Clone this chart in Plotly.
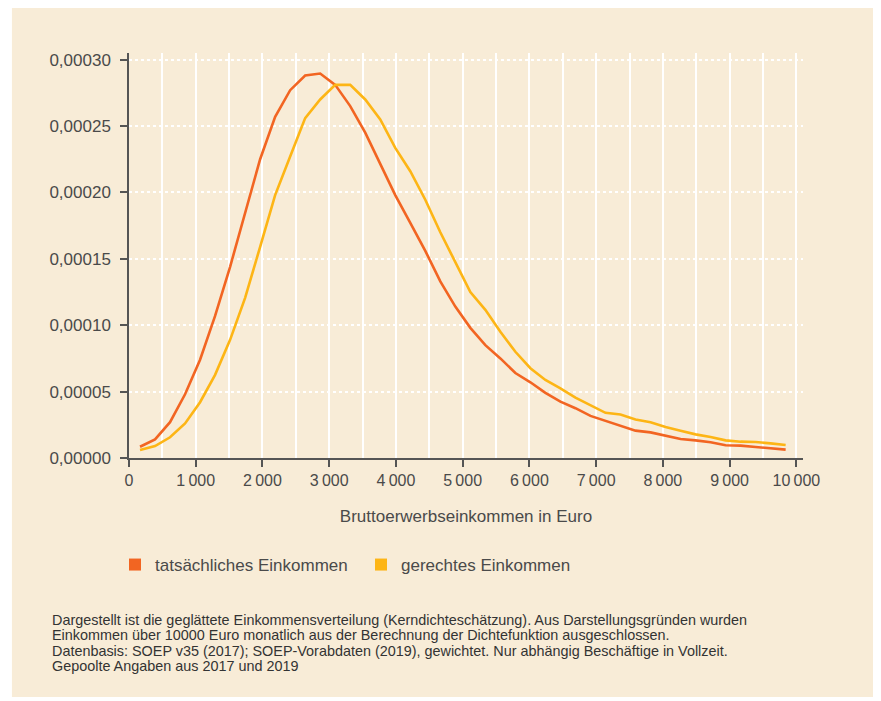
import plotly.graph_objects as go

# ---- data ----
einkommen = [165, 390, 615, 840, 1065, 1290, 1515, 1740, 1965, 2190, 2415, 2640, 2865,
             3090, 3315, 3540, 3765, 3990, 4215, 4440, 4665, 4890, 5115, 5340, 5565,
             5790, 6015, 6240, 6465, 6690, 6915, 7140, 7365, 7590, 7815, 8040, 8265,
             8490, 8715, 8940, 9165, 9390, 9615, 9840]

tatsaechlich = [8.5, 14, 27, 48, 74, 107, 144, 185, 225, 257, 277, 288, 289.5,
                281, 265, 245, 222, 198, 177, 156, 133, 114, 98, 85, 75,
                64, 57, 49, 42.5, 37.5, 31.7, 28, 24.4, 20.6, 19.3, 16.8, 14.3,
                13.3, 11.8, 9.6, 9.3, 8.3, 7.3, 6.3]
tatsaechlich = [v * 1e-6 for v in tatsaechlich]

gerecht = [6, 9, 15.6, 26, 42, 62.6, 89, 120.6, 159, 198, 227, 256, 270,
           281, 281, 270, 255, 233.5, 216, 194.5, 170, 147.5, 125, 111.6, 95,
           80, 67.6, 58.8, 52.5, 45.5, 40, 34, 32.7, 29, 27, 23.4, 20.6,
           17.8, 15.8, 13.3, 12.3, 12, 11, 9.8]
gerecht = [v * 1e-6 for v in gerecht]

x_tickvals = [0, 1000, 2000, 3000, 4000, 5000, 6000, 7000, 8000, 9000, 10000]
x_ticktext = ["0", "1\u2009000", "2\u2009000", "3\u2009000", "4\u2009000", "5\u2009000",
              "6\u2009000", "7\u2009000", "8\u2009000", "9\u2009000", "10\u2009000"]
y_tickvals = [0, 0.00005, 0.0001, 0.00015, 0.0002, 0.00025, 0.0003]
y_ticktext = ["0,00000", "0,00005", "0,00010", "0,00015", "0,00020", "0,00025", "0,00030"]

series_names = ["tatsächliches Einkommen", "gerechtes Einkommen"]
footnote_lines = [
    "Dargestellt ist die geglättete Einkommensverteilung (Kerndichteschätzung). "
    "Aus Darstellungsgründen wurden",
    "Einkommen über 10000 Euro monatlich aus der Berechnung der Dichtefunktion ausgeschlossen.",
    "Datenbasis: SOEP v35 (2017); SOEP-Vorabdaten (2019), gewichtet. "
    "Nur abhängig Beschäftige in Vollzeit.",
    "Gepoolte Angaben aus 2017 und 2019",
]

RED = "#F26522"
YEL = "#FDB515"
BEIGE = "#F8ECD7"
TXT = "#4a4a4a"
FONT = "Liberation Sans, Arial, sans-serif"

fig = go.Figure()
fig.add_trace(go.Scatter(x=einkommen, y=tatsaechlich, mode="lines",
                         line=dict(color=RED, width=2.6), showlegend=False))
fig.add_trace(go.Scatter(x=einkommen, y=gerecht, mode="lines",
                         line=dict(color=YEL, width=2.6), showlegend=False))
# legend entries (square swatches)
for name, col in zip(series_names, [RED, YEL]):
    fig.add_trace(go.Scatter(x=[None], y=[None], mode="markers", name=name,
                             marker=dict(symbol="square", size=12, color=col)))

# plot area: left 121, top 45, width ~673.7, height 405 (page has 8px body margin)
annotations = []
for i, line in enumerate(footnote_lines):
    py = 620 + i * 15.3
    annotations.append(dict(text=line, xref="paper", yref="paper",
                            x=-0.1173, y=(458 - py) / 405, xanchor="left", yanchor="middle",
                            align="left", showarrow=False,
                            font=dict(size=14.4, color="#333333", family=FONT)))

fig.update_layout(
    width=881, height=701,
    margin=dict(l=121, r=86.3, t=45, b=251),
    paper_bgcolor="white",
    plot_bgcolor=BEIGE,
    font=dict(family=FONT, size=17, color=TXT),
    showlegend=True,
    legend=dict(orientation="h", xref="container", yref="container",
                x=107 / 881, y=1 - 557 / 701, xanchor="left", yanchor="middle",
                bgcolor="rgba(0,0,0,0)", font=dict(size=17, color=TXT),
                entrywidth=201, itemwidth=30),
    shapes=[dict(type="rect", xref="paper", yref="paper",
                 x0=-0.1737, x1=1.1105, y0=-0.5902, y1=1.1136,
                 fillcolor=BEIGE, line=dict(width=0), layer="below")],
    annotations=annotations,
)

fig.update_xaxes(
    range=[0, 10100], tickvals=x_tickvals, ticktext=x_ticktext,
    showline=True, linecolor="#555555", linewidth=1.5,
    ticks="outside", ticklen=7, tickwidth=1.5, tickcolor="#555555",
    showgrid=True, gridcolor="white", gridwidth=1.5,
    minor=dict(dtick=500, tick0=0, showgrid=True, gridcolor="white", gridwidth=1.5, ticks=""),
    zeroline=False,
    tickfont=dict(size=16, color=TXT),
    title=dict(text="Bruttoerwerbseinkommen in Euro", standoff=22,
               font=dict(size=17, color=TXT)),
)
fig.update_yaxes(
    range=[0, 0.000305], tickvals=y_tickvals, ticktext=y_ticktext,
    showline=True, linecolor="#555555", linewidth=1.5,
    ticks="outside", ticklen=7, tickwidth=1.5, tickcolor="#555555",
    ticklabelstandoff=6,
    showgrid=True, gridcolor="white", gridwidth=2, griddash="dot",
    zeroline=False,
    tickfont=dict(size=17, color=TXT),
)

fig.write_html("out.html")
